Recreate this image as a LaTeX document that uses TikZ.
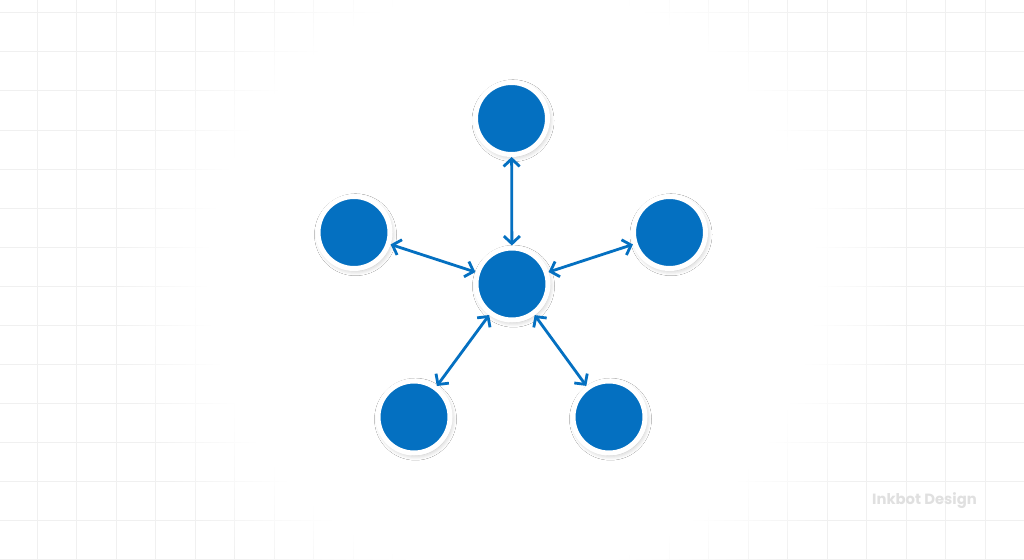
\documentclass[tikz,border=0pt]{standalone}
\usepackage{fontspec}
\newfontfamily\poppins{Poppins}
\usetikzlibrary{arrows.meta,fadings,shadows.blur}
\definecolor{nodeblue}{RGB}{4,112,193}
\definecolor{gridgray}{RGB}{240,240,240}
\definecolor{markgray}{RGB}{224,224,224}
\pgfdeclareradialshading{centerfadeshade}{\pgfpointorigin}{color(0bp)=(white); color(19bp)=(white); color(25bp)=(black); color(50bp)=(black)}
\pgfdeclarefading{centerfade}{\pgfuseshading{centerfadeshade}}
\tikzset{
  hub/.style={circle, fill=nodeblue, draw=white, line width=5pt, minimum size=72pt, inner sep=0pt,
    blur shadow={shadow xshift=1.5pt, shadow yshift=-2.2pt, shadow opacity=26, shadow blur radius=5pt, shadow blur steps=10}},
  link/.style={nodeblue, line width=2.8pt, {Straight Barb[length=7.5pt,width=16pt]}-{Straight Barb[length=7.5pt,width=16pt]}},
  gridline/.style={gridgray, line width=1pt}
}
\begin{document}
\begin{tikzpicture}[x=1pt,y=-1pt]
\useasboundingbox[fill=white] (0,0) rectangle (1024,559);
% grid
\foreach \i in {0,...,25} \draw[gridline] ({37+39.5*\i},0) -- ({37+39.5*\i},559);
\foreach \j in {0,...,14} \draw[gridline] (0,{13+39*\j}) -- (1024,{13+39*\j});
% fade of the grid toward the centre
\fill[white, path fading=centerfade] (512,280) ellipse [x radius=400, y radius=390];
% watermark
\node[markgray, font=\poppins\bfseries\fontsize{14.8}{17}\selectfont] (mark) at (924.5,501) {Inkbot Design};
% nodes
\node[hub] (c) at (512,284) {};
\node[hub] (t) at (511.5,118.5) {};
\node[hub] (l) at (354,232.5) {};
\node[hub] (r) at (669.5,232.5) {};
\node[hub] (bl) at (414,417) {};
\node[hub] (br) at (609,417) {};
% links
\draw[link] (t) -- (c);
\draw[link] (l) -- (c);
\draw[link] (r) -- (c);
\draw[link] (bl) -- (c);
\draw[link] (br) -- (c);
\end{tikzpicture}
\end{document}
